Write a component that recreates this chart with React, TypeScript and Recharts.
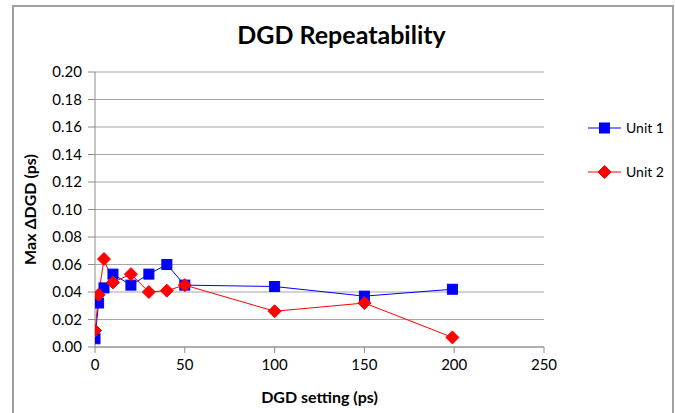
import { CartesianGrid, Line, LineChart, XAxis, YAxis, Label } from "recharts";

const FONT = "Lato, 'Liberation Sans', sans-serif";
const BLUE = "#0000FF";
const RED = "#FF0000";
const AXIS = "#8c8c8c";
const GRID = "#a6a6a6";

const settings = [0, 2, 5, 10, 20, 30, 40, 50, 100, 150, 199];
const unit1 = [0.006, 0.032, 0.043, 0.053, 0.045, 0.053, 0.06, 0.045, 0.044, 0.037, 0.042];
const unit2 = [0.012, 0.038, 0.064, 0.047, 0.053, 0.04, 0.041, 0.045, 0.026, 0.032, 0.007];
const xTicks = [0, 50, 100, 150, 200, 250];
const yTicks = [0, 0.02, 0.04, 0.06, 0.08, 0.1, 0.12, 0.14, 0.16, 0.18, 0.2];

const series = [
  { name: "Unit 1", color: BLUE, shape: "square", data: settings.map((x, i) => ({ x, y: unit1[i] })) },
  { name: "Unit 2", color: RED, shape: "diamond", data: settings.map((x, i) => ({ x, y: unit2[i] })) },
];

function Marker({ cx, cy, shape, color }: any) {
  if (cx == null || cy == null) return null;
  if (shape === "square") {
    return <rect x={cx - 5} y={cy - 5} width={10} height={10} fill={color} stroke={color} />;
  }
  const r = 6.5;
  return <polygon points={`${cx},${cy - r} ${cx + r},${cy} ${cx},${cy + r} ${cx - r},${cy}`} fill={color} stroke={color} />;
}

function LegendBox() {
  return (
    <svg width={90} height={70} style={{ position: "absolute", left: 588, top: 120 }}>
      {series.map((s, i) => {
        const y = 8 + i * 44;
        return (
          <g key={s.name}>
            <line x1={0} x2={33} y1={y} y2={y} stroke={s.color} strokeWidth={1} />
            <Marker cx={16.5} cy={y} shape={s.shape} color={s.color} />
            <text x={38} y={y + 5} fontSize={14} fontFamily={FONT} fill="#000">
              {s.name}
            </text>
          </g>
        );
      })}
    </svg>
  );
}

export default function App() {
  return (
    <div style={{ position: "absolute", left: 0, top: 0, width: 675, height: 413, overflow: "hidden", background: "#fff" }}>
      <div
        style={{
          position: "absolute",
          left: 12,
          top: 5,
          width: 658,
          height: 430,
          border: "2px solid #a0a0a0",
          borderBottom: "none",
        }}
      />
      <div
        style={{
          position: "absolute",
          left: 0,
          top: 19,
          width: 675,
          textAlign: "center",
          paddingLeft: 8,
          boxSizing: "border-box",
          fontFamily: FONT,
          fontWeight: 700,
          fontSize: 25,
          color: "#000",
        }}
      >
        DGD Repeatability
      </div>
      <div style={{ position: "absolute", left: 0, top: 0 }}>
        <LineChart width={675} height={413} margin={{ top: 72, right: 131, bottom: 10, left: 0 }}>
          <CartesianGrid horizontal vertical={false} stroke={GRID} horizontalValues={yTicks} />
          <XAxis
            type="number"
            dataKey="x"
            domain={[0, 250]}
            ticks={xTicks}
            allowDataOverflow
            height={56}
            stroke={AXIS}
            tickSize={6}
            tickMargin={6}
            tick={{ fill: "#000", fontSize: 15, fontFamily: FONT }}
          >
            <Label value="DGD setting (ps)" position="insideBottom" offset={0} style={{ fill: "#000", fontSize: 16, fontWeight: 700, fontFamily: FONT }} />
          </XAxis>
          <YAxis
            type="number"
            dataKey="y"
            domain={[0, 0.2]}
            ticks={yTicks}
            width={95}
            stroke={AXIS}
            tickSize={7}
            tickMargin={6}
            tickFormatter={(v: number) => v.toFixed(2)}
            tick={{ fill: "#000", fontSize: 15, fontFamily: FONT }}
          >
            <Label
              value="Max ΔDGD (ps)"
              angle={-90}
              position="insideLeft"
              offset={30}
              style={{ fill: "#000", fontSize: 16, fontWeight: 700, fontFamily: FONT, textAnchor: "middle" }}
            />
          </YAxis>
          {series.map((s) => (
            <Line
              key={s.name}
              data={s.data}
              dataKey="y"
              name={s.name}
              type="linear"
              stroke={s.color}
              strokeWidth={1}
              dot={(p: any) => <Marker key={p.index} cx={p.cx} cy={p.cy} shape={s.shape} color={s.color} />}
              activeDot={false}
              isAnimationActive={false}
            />
          ))}
        </LineChart>
      </div>
      <LegendBox />
    </div>
  );
}
